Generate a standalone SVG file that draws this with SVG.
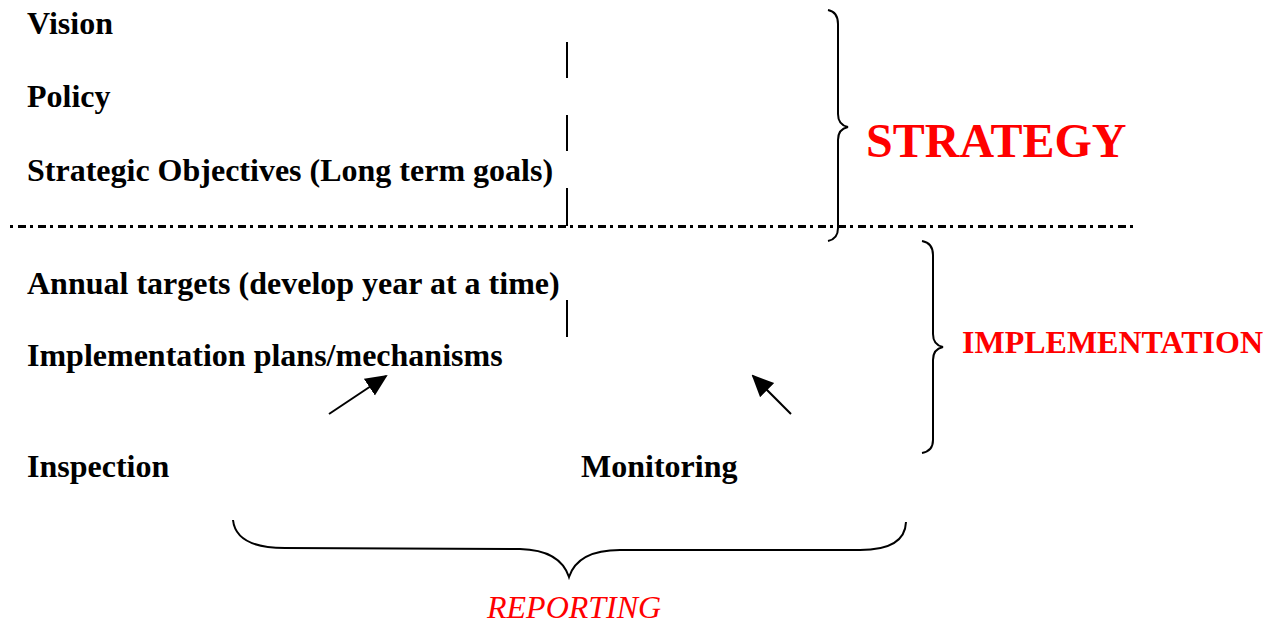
<svg xmlns="http://www.w3.org/2000/svg" width="1284" height="623" viewBox="0 0 1284 623">
<defs>
<style>
.t{font-family:"Liberation Serif","Times New Roman",serif;font-weight:bold;font-size:32px;fill:#000}
.red{font-family:"Liberation Serif","Times New Roman",serif;font-weight:bold;fill:#ff0000}
.ln{stroke:#000;stroke-width:2;fill:none}
.br{stroke:#000;stroke-width:2;fill:none}
</style>
<marker id="ah2" markerWidth="22" markerHeight="22" refX="20" refY="11" orient="auto" markerUnits="userSpaceOnUse" viewBox="0 0 22 22">
<path d="M0,1 L22,11 L0,21 z" fill="#000"/>
</marker>
</defs>
<rect width="1284" height="623" fill="#fff"/>

<g id="vision"><text class="t" x="27" y="34">Vision</text></g>
<g id="policy"><text class="t" x="27" y="107">Policy</text></g>
<g id="objectives"><text class="t" x="27" y="181">Strategic Objectives (Long term goals)</text></g>
<g id="annual"><text class="t" x="27" y="294">Annual targets (develop year at a time)</text></g>
<g id="implementation"><text class="t" x="27" y="366">Implementation plans/mechanisms</text></g>
<g id="inspection"><text class="t" x="27" y="477">Inspection</text></g>
<g id="monitoring"><text class="t" x="581" y="477">Monitoring</text></g>

<g id="strategy-label"><text class="red" x="866" y="157" font-size="48">STRATEGY</text></g>
<g id="implementation-label"><text class="red" x="962" y="353" font-size="32">IMPLEMENTATION</text></g>
<g id="reporting-label"><text x="487" y="618" font-family="Liberation Serif,'Times New Roman',serif" font-style="italic" font-size="32" fill="#ff0000">REPORTING</text></g>

<g id="divider">
<line x1="10" y1="226.5" x2="1135" y2="226.5" stroke="#000" stroke-width="3" stroke-dasharray="3 5 8 4"/>
<line class="ln" x1="567" y1="42" x2="567" y2="78"/>
<line class="ln" x1="567" y1="115" x2="567" y2="151"/>
<line class="ln" x1="567" y1="188" x2="567" y2="226"/>
<line class="ln" x1="567" y1="300" x2="567" y2="337"/>
</g>

<g id="braces">
<path class="br" d="M828,10 Q838,12 838,24 L838,114 Q838,125 848,127 Q838,129 838,140 L838,228 Q838,239 828,241"/>
<path class="br" d="M922,241 Q933,243 933,255 L933,334 Q933,345 943,347 Q933,349 933,360 L933,440 Q933,451 922,453"/>
<path class="br" d="M233,520 Q236,548 285,548 L520,549 Q560,550 569,577 Q578,550 620,550 L860,550 Q905,550 906,522"/>
</g>

<g id="connectors">
<line class="ln" x1="329" y1="414" x2="386" y2="376" marker-end="url(#ah2)"/>
<line class="ln" x1="791" y1="414" x2="753" y2="376" marker-end="url(#ah2)"/>
</g>
</svg>
